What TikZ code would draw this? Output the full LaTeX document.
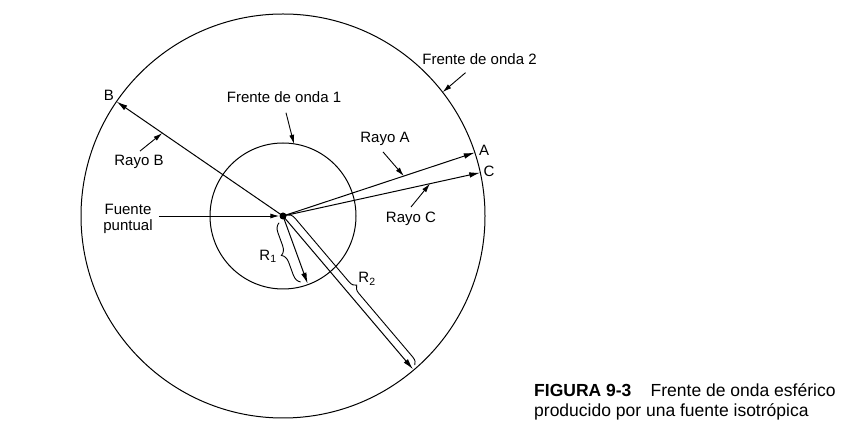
\documentclass[tikz,border=0pt]{standalone}
\usepackage{fontspec}
\setmainfont{Liberation Sans}
\usetikzlibrary{arrows.meta,positioning,calc,decorations.pathreplacing}

\begin{document}
\begin{tikzpicture}[x=1pt,y=1pt,
    front/.style={line width=1pt},
    ray/.style={line width=1pt,-{Latex[length=11pt,width=5.5pt]}},
    pointer/.style={line width=0.9pt,-{Latex[length=9pt,width=5pt]}},
    lbl/.style={font=\fontsize{15}{16}\selectfont,inner sep=2pt},
    radbrace/.style={line width=0.9pt,decorate,decoration={brace,amplitude=#1}}]
  \useasboundingbox (0,0) rectangle (845,433);
  \coordinate (O) at (283,217);
  % wave fronts
  \draw[front] (O) circle[radius=202];
  \draw[front] (O) circle[radius=73];
  \node[circle,fill,inner sep=0pt,minimum size=7pt] (src) at (O) {};
  % rays A, C, B
  \foreach \name/\ang/\lx/\ly in {A/18.3/484/283, C/12.4/489/262, B/145.5/109/338}
  {
    \coordinate (\name) at ($(O)+(\ang:202)$);
    \draw[ray] (src.center) -- (\name);
    \node[lbl] (tag\name) at (\lx,\ly) {\name};
  }
  % radii with braces
  \coordinate (R1) at ($(O)+(-70:72)$);
  \coordinate (R2) at ($(O)+(-49.7:201)$);
  \draw[ray] (src.center) -- (R1);
  \draw[ray] (src.center) -- (R2);
  \draw[radbrace=9pt] ($(O)+(-70:68)+(-160:6)$) -- ($(O)+(-70:5)+(-160:6)$);
  \draw[radbrace=7.5pt] ($(O)+(-49.7:2)+(40.3:4)$) -- ($(O)+(-49.7:199)+(40.3:4)$);
  \node[lbl] (rad1) at (268,177) {R\textsubscript{1}};
  \node[lbl] (rad2) at (367,154) {R\textsubscript{2}};
  % labels
  \node[lbl] (fw2) at (479.5,374) {Frente de onda 2};
  \node[lbl] (fw1) at (284,336) {Frente de onda 1};
  \node[lbl] (rayB) at (139,271) {Rayo B};
  \node[lbl] (rayA) at (385,294) {Rayo A};
  \node[lbl] (rayC) at (411,214) {Rayo C};
  \node[lbl,align=center] (fuente) at (128,214) {Fuente\\puntual};
  % pointers
  \draw[pointer] ([shift={(-14,-6)}]fw2.south) -- ($(O)+(37.8:202)$);
  \draw[pointer] ([shift={(2,-8)}]fw1.south) -- ($(O)+(81.4:73)$);
  \draw[pointer] ([shift={(1,2)}]rayB.north) -- ($(O)!0.725!(B)$);
  \draw[pointer] ([shift={(-2,-4)}]rayA.south) -- ($(O)!0.63!(A)$);
  \draw[pointer] ([shift={(0,3)}]rayC.north) -- ($(O)!0.745!(C)$);
  \draw[pointer,shorten <=4pt] (fuente.east |- src.west) -- (src.west);
  % caption
  \node[anchor=north west,font=\fontsize{17.5}{20}\selectfont,align=left,inner sep=0pt] (caption) at (534,50)
    {\textbf{FIGURA 9-3}\hspace{1.1em}Frente de onda esférico\\producido por una fuente isotrópica};
\end{tikzpicture}
\end{document}
